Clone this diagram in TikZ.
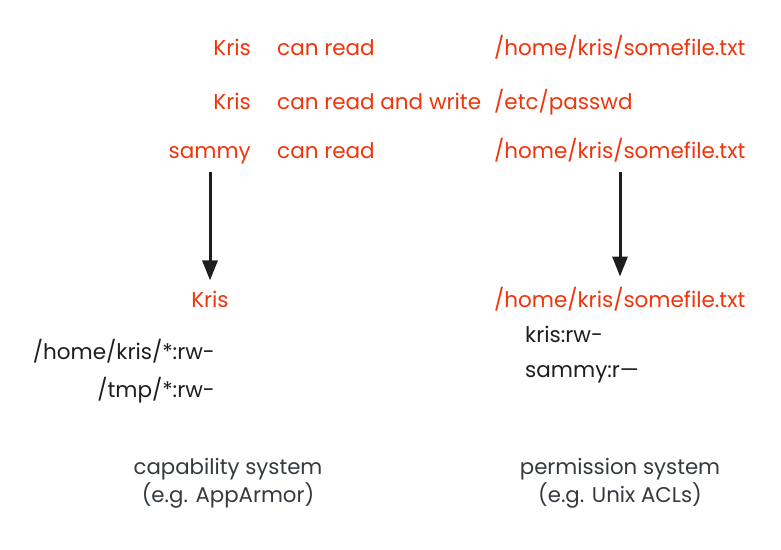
\documentclass[tikz,border=0pt]{standalone}
\usepackage{fontspec}
\setmainfont{Poppins}
\usetikzlibrary{arrows.meta}
\definecolor{redink}{RGB}{240,52,12}
\definecolor{blackink}{RGB}{30,30,30}
\definecolor{grayink}{RGB}{52,58,64}
\tikzset{
  redtxt/.style={text=redink, font=\fontsize{21.5}{24}\selectfont, inner sep=0pt},
  blktxt/.style={text=blackink, font=\fontsize{21.5}{24}\selectfont, inner sep=0pt},
  captxt/.style={text=grayink, font=\fontsize{21.3}{24}\selectfont, inner sep=0pt, anchor=base},
  bigarrow/.style={draw=blackink, line width=3pt, -{Triangle[length=20pt,width=15pt]}, shorten >=10pt}
}
\begin{document}
\begin{tikzpicture}[x=1pt,y=-1pt]
\useasboundingbox (0,0) rectangle (781,549);
% top rows
\node[redtxt, anchor=base east] (k1) at (251,55) {Kris};
\node[redtxt, anchor=base west] (r1) at (277,55) {can read};
\node[redtxt, anchor=base west] (f1) at (494,55) {/home/kris/somefile.txt};
\node[redtxt, anchor=base east] (k2) at (251,109) {Kris};
\node[redtxt, anchor=base west] (r2) at (277,109) {can read and write};
\node[redtxt, anchor=base west] (f2) at (494,109) {/etc/passwd};
\node[redtxt, anchor=base east] (s3) at (251,158) {sammy};
\node[redtxt, anchor=base west] (r3) at (277,158) {can read};
\node[redtxt, anchor=base west] (f3) at (494,158) {/home/kris/somefile.txt};
% lower left
\node[redtxt, anchor=base] (kl) at (210,307) {Kris};
\node[blktxt, anchor=base east] (hl) at (215,359) {/home/kris/*:rw-};
\node[blktxt, anchor=base east] (tl) at (215,397) {/tmp/*:rw-};
% lower right
\node[redtxt, anchor=base west] (fr) at (494,307) {/home/kris/somefile.txt};
\node[blktxt, anchor=base west] (kr) at (525,342) {kris:rw-};
\node[blktxt, anchor=base west] (sr) at (525,377) {sammy:r—};
% captions
\node[captxt] (c1) at (228,474) {capability system};
\node[captxt] (c2) at (228,502) {(e.g. AppArmor)};
\node[captxt] (c3) at (620,474) {permission system};
\node[captxt] (c4) at (620,502) {(e.g. Unix ACLs)};
% arrows
\coordinate (la) at (210,172);
\coordinate (ra) at (620,172);
\draw[bigarrow] (la) -- (la |- kl.north);
\draw[bigarrow] (ra) -- (ra |- fr.north);
\end{tikzpicture}
\end{document}
